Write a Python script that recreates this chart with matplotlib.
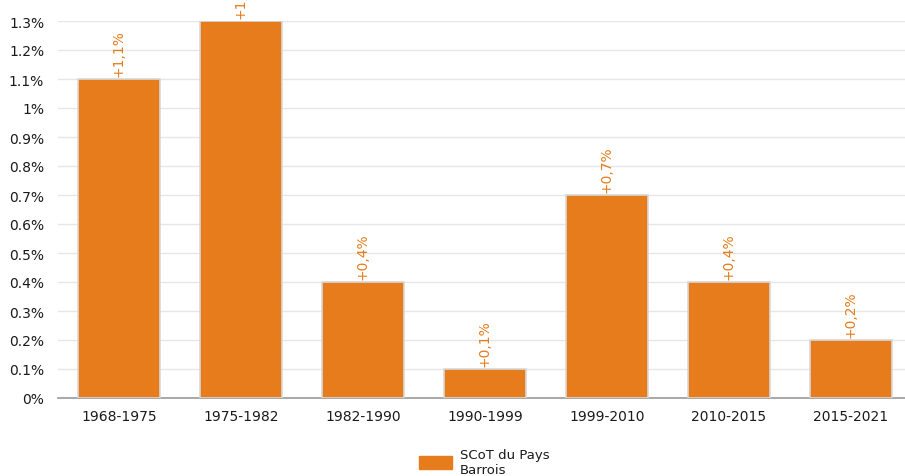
import matplotlib.pyplot as plt
from matplotlib.patches import FancyBboxPatch, Patch

# Données
periodes = ["1968-1975", "1975-1982", "1982-1990", "1990-1999",
            "1999-2010", "2010-2015", "2015-2021"]
taux = [1.1, 1.3, 0.4, 0.1, 0.7, 0.4, 0.2]
etiquettes = ["+1,1%", "+1,3%", "+0,4%", "+0,1%", "+0,7%", "+0,4%", "+0,2%"]
yticks = [0, 0.1, 0.2, 0.3, 0.4, 0.5, 0.6, 0.7, 0.8, 0.9, 1.0, 1.1, 1.2, 1.3]
ytick_labels = ["0%", "0.1%", "0.2%", "0.3%", "0.4%", "0.5%", "0.6%", "0.7%",
                "0.8%", "0.9%", "1%", "1.1%", "1.2%", "1.3%"]
serie = "SCoT du Pays\nBarrois"

orange = "#E67C1B"

fig = plt.figure(figsize=(9.05, 4.77), dpi=100)
ax = fig.add_axes([58 / 905, 78 / 477, 854 / 905, 377 / 477])

x = range(len(periodes))
ax.bar(x, taux, width=0.67, color=orange, edgecolor="#d8d8d8", linewidth=1.2, zorder=3)

# Etiquettes de valeurs
for i, (v, t) in enumerate(zip(taux, etiquettes)):
    ax.text(i, v + 0.012, t, rotation=90, ha="center", va="bottom",
            color=orange, fontsize=10, clip_on=False)

ax.set_xlim(-0.5, len(periodes) - 0.5)
ax.set_ylim(0, 1.3)
ax.set_xticks(list(x))
ax.set_xticklabels(periodes, fontsize=10, color="#1a1a1a")
ax.set_yticks(yticks)
ax.set_yticklabels(ytick_labels, fontsize=10, color="#1a1a1a")
ax.tick_params(length=0, pad=8)
ax.tick_params(axis="y", pad=10)

# Grille
ax.grid(axis="y", color="#e6e6e6", linewidth=1, zorder=0)
for s in ["top", "right", "left"]:
    ax.spines[s].set_visible(False)
ax.spines["bottom"].set_color("#999999")
ax.spines["bottom"].set_linewidth(1.2)

# Légende
handle = Patch(facecolor=orange, edgecolor=orange, label=serie)
leg = fig.legend(handles=[handle], loc="center", bbox_to_anchor=(484 / 905, 1 - 463 / 477),
                 frameon=False, fontsize=9.5, handlelength=2.5, handleheight=1.1,
                 handletextpad=0.6, labelspacing=0)
for txt in leg.get_texts():
    txt.set_color("#1a1a1a")

fig.savefig("out.png", dpi=100)
